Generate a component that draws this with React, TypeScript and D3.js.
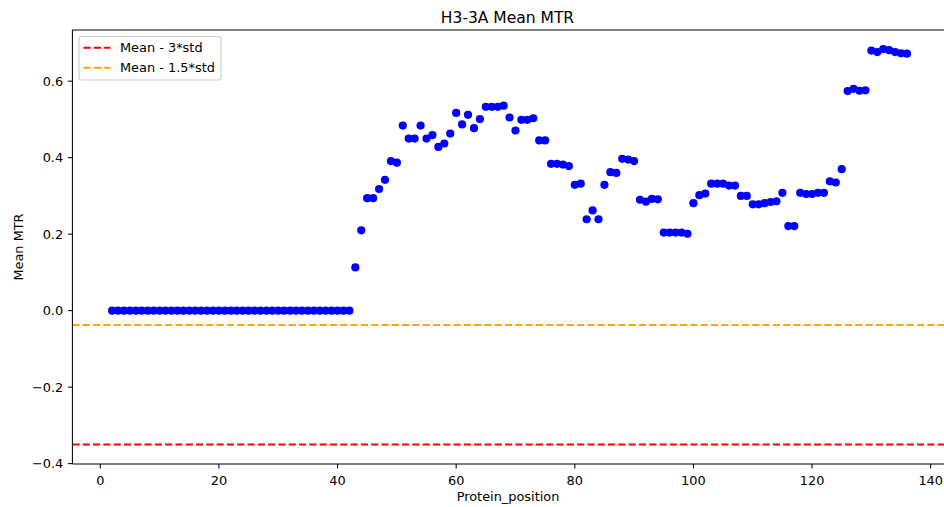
import React from "react";
import * as d3 from "d3";

const title = "H3-3A Mean MTR";
const xLabel = "Protein_position";
const yLabel = "Mean MTR";

const firstPosition = 2;
const meanMTR: number[] = [
  0, 0, 0, 0, 0, 0, 0, 0, 0, 0,
  0, 0, 0, 0, 0, 0, 0, 0, 0, 0,
  0, 0, 0, 0, 0, 0, 0, 0, 0, 0,
  0, 0, 0, 0, 0, 0, 0, 0, 0, 0,
  0,
  0.113, 0.210, 0.294, 0.294, 0.318, 0.342, 0.391, 0.387,
  0.484, 0.450, 0.450, 0.484, 0.450, 0.459, 0.428, 0.437, 0.463, 0.517,
  0.487, 0.512, 0.477, 0.501, 0.533, 0.533, 0.533, 0.536, 0.505, 0.471,
  0.499, 0.499, 0.503, 0.445, 0.445, 0.384, 0.384, 0.382, 0.378, 0.329,
  0.332, 0.239, 0.262, 0.239, 0.329, 0.362, 0.360, 0.397, 0.395, 0.391,
  0.290, 0.285, 0.292, 0.291, 0.204, 0.204, 0.204, 0.204, 0.201, 0.281,
  0.302, 0.306, 0.332, 0.332, 0.332, 0.327, 0.327, 0.300, 0.300, 0.278,
  0.278, 0.281, 0.284, 0.286, 0.308, 0.221, 0.221, 0.308, 0.305, 0.305,
  0.308, 0.308, 0.338, 0.335, 0.370, 0.574, 0.580, 0.575, 0.576, 0.680,
  0.676, 0.684, 0.681, 0.676, 0.673, 0.672,
];
const positions = meanMTR.map((_, i) => firstPosition + i);

const thresholdLabels = ["Mean - 3*std", "Mean - 1.5*std"];
const thresholdValues = [-0.35, -0.0374];
const thresholdColors = ["#ff0000", "#ffa500"];

const xTicks = [0, 20, 40, 60, 80, 100, 120, 140];
const yTicks = [-0.4, -0.2, 0.0, 0.2, 0.4, 0.6];

const W = 944;
const H = 507;
const left = 72.4;
const right = 946.7;
const top = 30;
const bottom = 464;
const FONT = "DejaVu Sans, sans-serif";
const FS = 12.9;
const TICK = 4.5;

export default function App() {
  const x = d3.scaleLinear().domain([-4.7, 142.7]).range([left, right]);
  const y = d3.scaleLinear().domain([-0.401, 0.7338]).range([bottom, top]);
  const fmtY = (v: number) => {
    const s = d3.format(".1f")(Math.abs(v) < 1e-9 ? 0 : v);
    return s.replace("-", "\u2212");
  };

  return (
    <svg
      width={W}
      height={H}
      style={{ position: "absolute", left: 0, top: 0, display: "block", background: "#fff" }}
      fontFamily={FONT}
    >
      <defs>
        <clipPath id="plotClip">
          <rect x={left} y={top} width={right - left} height={bottom - top} />
        </clipPath>
      </defs>
      <rect x={0} y={0} width={W} height={H} fill="#fff" />

      <g clipPath="url(#plotClip)">
        {positions.map((p, i) => (
          <circle key={i} cx={x(p)} cy={y(meanMTR[i])} r={4.1} fill="#0000ff" />
        ))}
        {thresholdValues.map((v, i) => (
          <line
            key={i}
            x1={left}
            x2={right}
            y1={y(v)}
            y2={y(v)}
            stroke={thresholdColors[i]}
            strokeWidth={1.94}
            strokeDasharray="7.2,3.1"
          />
        ))}
      </g>

      {/* spines */}
      <line x1={left} x2={left} y1={top} y2={bottom} stroke="#000" strokeWidth={1.05} />
      <line x1={left} x2={right} y1={bottom} y2={bottom} stroke="#000" strokeWidth={1.05} />
      <line x1={left} x2={right} y1={top} y2={top} stroke="#000" strokeWidth={1.05} />

      {/* x ticks */}
      {xTicks.map((t) => (
        <g key={t}>
          <line x1={x(t)} x2={x(t)} y1={bottom} y2={bottom + TICK} stroke="#000" strokeWidth={1.05} />
          <text x={x(t)} y={484.5} fontSize={FS} textAnchor="middle" fill="#000">
            {t}
          </text>
        </g>
      ))}

      {/* y ticks */}
      {yTicks.map((t) => (
        <g key={t}>
          <line x1={left - TICK} x2={left} y1={y(t)} y2={y(t)} stroke="#000" strokeWidth={1.05} />
          <text x={left - 9.2} y={y(t)} dy="0.36em" fontSize={FS} textAnchor="end" fill="#000">
            {fmtY(t)}
          </text>
        </g>
      ))}

      <text x={(72 + 943) / 2} y={22.5} fontSize={15.5} textAnchor="middle" fill="#000">
        {title}
      </text>
      <text x={508} y={501} fontSize={FS} textAnchor="middle" fill="#000">
        {xLabel}
      </text>
      <text
        transform={`translate(22.5, ${(top + bottom) / 2}) rotate(-90)`}
        fontSize={FS}
        textAnchor="middle"
        fill="#000"
      >
        {yLabel}
      </text>

      {/* legend */}
      <g>
        <rect
          x={79}
          y={36.5}
          width={142}
          height={43.5}
          rx={2.5}
          fill="#fff"
          fillOpacity={0.8}
          stroke="#cccccc"
          strokeWidth={1.05}
        />
        {thresholdLabels.map((lab, i) => (
          <g key={lab}>
            <line
              x1={83.5}
              x2={110.5}
              y1={47.7 + i * 20}
              y2={47.7 + i * 20}
              stroke={thresholdColors[i]}
              strokeWidth={1.94}
              strokeDasharray="7.2,3.1"
            />
            <text x={120} y={47.7 + i * 20} dy="0.36em" fontSize={FS} fill="#000">
              {lab}
            </text>
          </g>
        ))}
      </g>
    </svg>
  );
}
